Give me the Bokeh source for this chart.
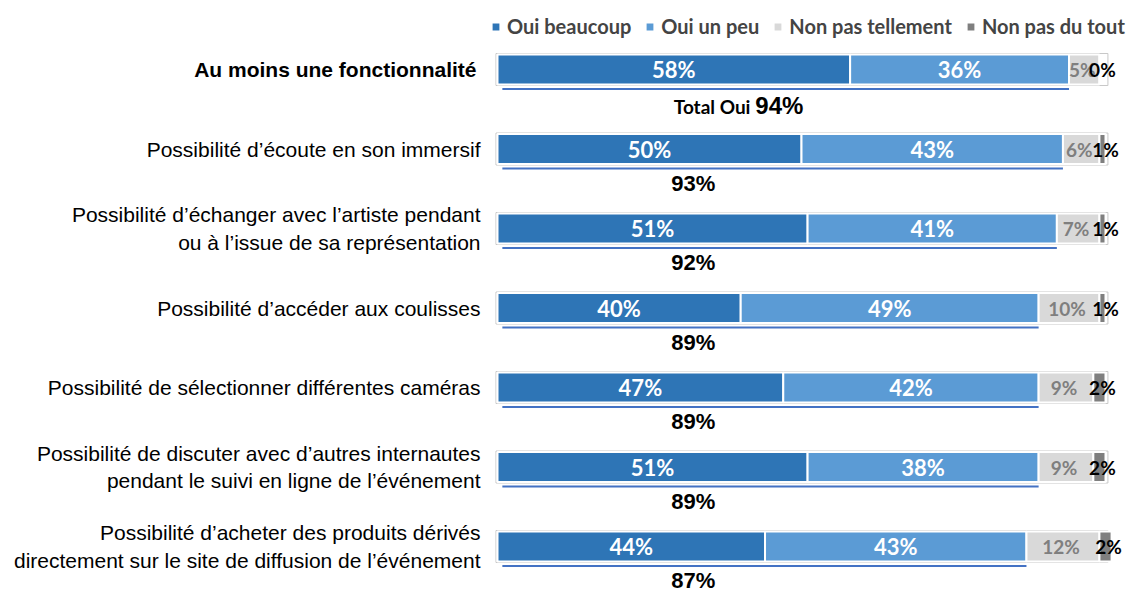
from bokeh.plotting import figure
from bokeh.models import Range1d, ColumnDataSource, Legend, LegendItem
from bokeh.core.properties import value
from bokeh.embed import file_html
from bokeh.resources import INLINE

categories = [
    "Au moins une fonctionnalité",
    "Possibilité d’écoute en son immersif",
    "Possibilité d’échanger avec l’artiste pendant\nou à l’issue de sa représentation",
    "Possibilité d’accéder aux coulisses",
    "Possibilité de sélectionner différentes caméras",
    "Possibilité de discuter avec d’autres internautes\npendant le suivi en ligne de l’événement",
    "Possibilité d’acheter des produits dérivés\ndirectement sur le site de diffusion de l’événement",
]
oui_beaucoup = [58, 50, 51, 40, 47, 51, 44]
oui_un_peu = [36, 43, 41, 49, 42, 38, 43]
non_pas_tellement = [5, 6, 7, 10, 9, 9, 12]
non_pas_du_tout = [0, 1, 1, 1, 2, 2, 2]
total_oui = [94, 93, 92, 89, 89, 89, 87]
series_names = ["Oui beaucoup", "Oui un peu", "Non pas tellement", "Non pas du tout"]
series_values = [oui_beaucoup, oui_un_peu, non_pas_tellement, non_pas_du_tout]
colors = ["#2E75B6", "#5B9BD5", "#D9D9D9", "#7F7F7F"]

W, H = 1133, 592
PX0, SCALE = 497, 6.08  # pixel of 0% and px per %
p = figure(width=W, height=H, output_backend="svg", toolbar_location=None,
           x_range=Range1d(-PX0 / SCALE, (W - PX0) / SCALE),
           y_range=Range1d(H, 0), min_border=0)
p.xaxis.visible = False
p.yaxis.visible = False
p.grid.visible = False
p.outline_line_color = None
p.background_fill_color = "white"

n = len(categories)
ys = [69 + i * 79.5 for i in range(n)]

# outline boxes
p.quad(left=[-0.25] * n, right=[100.4] * n,
       top=[y - 16 for y in ys], bottom=[y + 16 for y in ys],
       fill_color="white", line_color="#C8C8C8", line_width=1)

renderers = []
lefts = [0] * n
for k, (name, vals, col) in enumerate(zip(series_names, series_values, colors)):
    rights = [l + v for l, v in zip(lefts, vals)]
    src = ColumnDataSource(dict(y=ys, left=lefts, right=rights,
                                mid=[(l + r) / 2 for l, r in zip(lefts, rights)],
                                lab=[f"{v}%" for v in vals]))
    r = p.hbar(y="y", left="left", right="right", height=30, source=src,
               fill_color=col, line_color="white", line_width=2)
    renderers.append(r)
    if k < 2:
        p.text(x="mid", y="y", text="lab", source=src, text_color="white",
               text_font=value("Lato"), text_font_style="bold", text_font_size="22px",
               text_align="center", text_baseline="middle")
    elif k == 2:
        p.text(x="mid", y="y", text="lab", source=src, text_color="#7F7F7F",
               text_font=value("Lato"), text_font_style="bold", text_font_size="19px",
               text_align="center", text_baseline="middle", x_offset=-2)
    else:
        p.text(x="mid", y="y", text="lab", source=src, text_color="black",
               text_font=value("Lato"), text_font_style="bold", text_font_size="19px",
               text_align="center", text_baseline="middle", x_offset=3)
    lefts = rights

# underline for total oui
p.segment(x0=[0.8] * n, x1=total_oui, y0=[y + 19.5 for y in ys], y1=[y + 19.5 for y in ys],
          line_color="#4472C4", line_width=2)

# category labels
p.text(x=[0], y=[ys[0]], text=categories[:1],
       text_font=value("Liberation Sans"), text_font_style="bold", text_font_size="21px",
       text_align="right", text_baseline="middle", x_offset=-21, text_color="black")
p.text(x=[0] * (n - 1), y=ys[1:], text=categories[1:],
       text_font=value("Liberation Sans"), text_font_size="21px",
       text_align="right", text_baseline="middle", x_offset=-17, text_color="black",
       text_line_height=1.2)

# totals
tot_src = ColumnDataSource(dict(x=[32.2] * (n - 1), y=[y + 34 for y in ys[1:]],
                                t=[f"{v}%" for v in total_oui[1:]]))
p.text(x="x", y="y", text="t", source=tot_src, text_font=value("Liberation Sans"),
       text_font_style="bold", text_font_size="22px", text_align="center",
       text_baseline="middle", text_color="black")
p.text(x=[41.6], y=[ys[0] + 37], text=["Total Oui"], text_font=value("Lato"),
       text_font_style="bold", text_font_size="19px", text_align="right",
       text_baseline="middle", text_color="black")
p.text(x=[42.4], y=[ys[0] + 36], text=[f"{total_oui[0]}%"], text_font=value("Liberation Sans"),
       text_font_style="bold", text_font_size="24px", text_align="left",
       text_baseline="middle", text_color="black")

legend = Legend(items=[LegendItem(label=nm, renderers=[r]) for nm, r in zip(series_names, renderers)],
                orientation="horizontal", location=(490, 554),
                glyph_width=11, glyph_height=11, label_text_font="Lato",
                label_text_font_style="bold", label_text_font_size="20px",
                border_line_color=None, background_fill_alpha=0, padding=0, margin=0,
                spacing=13, label_standoff=6, label_height=20)
p.add_layout(legend, "center")

open("out.html", "w").write(file_html(p, INLINE))
